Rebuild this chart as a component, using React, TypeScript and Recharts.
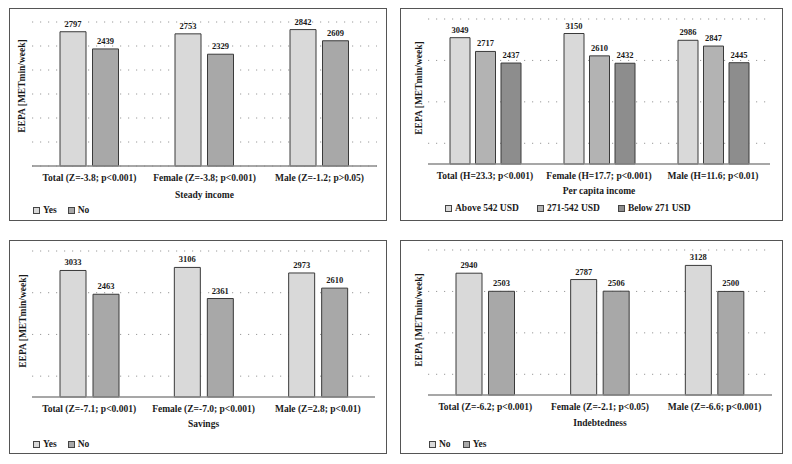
import React from 'react';
import { BarChart, Bar, XAxis, YAxis, CartesianGrid, Legend, LabelList, Label } from 'recharts';

const FONT = '"Liberation Serif", "Times New Roman", serif';
const TEXT = '#1a1a1a';

// Panel 1: Steady income
const steadyCategories = ['Total (Z=-3.8; p<0.001)', 'Female (Z=-3.8; p<0.001)', 'Male (Z=-1.2; p>0.05)'];
const steadyYes = [2797, 2753, 2842];
const steadyNo = [2439, 2329, 2609];

// Panel 2: Per capita income
const incomeCategories = ['Total (H=23.3; p<0.001)', 'Female (H=17.7; p<0.001)', 'Male (H=11.6; p<0.01)'];
const incomeAbove = [3049, 3150, 2986];
const incomeMid = [2717, 2610, 2847];
const incomeBelow = [2437, 2432, 2445];

// Panel 3: Savings
const savingsCategories = ['Total (Z=-7.1; p<0.001)', 'Female (Z=-7.0; p<0.001)', 'Male (Z=2.8; p<0.01)'];
const savingsYes = [3033, 3106, 2973];
const savingsNo = [2463, 2361, 2610];

// Panel 4: Indebtedness
const debtCategories = ['Total (Z=-6.2; p<0.001)', 'Female (Z=-2.1; p<0.05)', 'Male (Z=-6.6; p<0.001)'];
const debtNo = [2940, 2787, 3128];
const debtYes = [2503, 2506, 2500];

const ticks3000 = [0, 500, 1000, 1500, 2000, 2500, 3000];
const ticks3500 = [0, 500, 1000, 1500, 2000, 2500, 3000, 3500];

const LIGHT = '#d9d9d9';
const MID = '#a8a8a8';
const MID2 = '#b3b3b3';
const DARK = '#8d8d8d';

type Series = { key: string; name: string; color: string };

type PanelProps = {
  left: number; top: number; width: number; height: number;
  data: any[]; series: Series[];
  margin: { top: number; right: number; bottom: number; left: number };
  yWidth: number; xHeight: number; title: string; titleOffset: number;
  domainMax: number; ticks: number[]; barSize: number; barGap: number;
  legendLeft: number; legendTop: number; legendGap: number;
  yLabelX: number; yLabelY: number;
};

const Panel = (p: PanelProps) => {
  const renderLegend = () => (
    <div style={{ display: 'flex', alignItems: 'center', fontFamily: FONT, fontSize: 9.5, fontWeight: 'bold', color: TEXT, lineHeight: '12px', whiteSpace: 'nowrap' }}>
      {p.series.map((s, i) => (
        <div key={i} style={{ display: 'flex', alignItems: 'center', marginRight: p.legendGap }}>
          <span style={{ display: 'inline-block', width: 5, height: 5, background: s.color, border: '1px solid #444', marginRight: 3 }} />
          <span>{s.name}</span>
        </div>
      ))}
    </div>
  );
  return (
    <>
      <div style={{ position: 'absolute', left: p.left, top: p.top, width: p.width, height: p.height, boxSizing: 'border-box', border: '1px solid #555', background: '#fff' }} />
      <div style={{ position: 'absolute', left: p.left, top: p.top, width: p.width, height: p.height }}>
        <BarChart width={p.width} height={p.height} data={p.data} margin={p.margin} barSize={p.barSize} barGap={p.barGap}>
          <CartesianGrid vertical={false} horizontalValues={p.ticks} stroke="#9a9a9a" strokeDasharray="1.2 6.8" />
          <XAxis dataKey="cat" tickLine={false} interval={0} height={p.xHeight}
            axisLine={{ stroke: '#8a8a8a', strokeWidth: 1.6 }}
            tick={{ fontFamily: FONT, fontSize: 9.5, fontWeight: 'bold', fill: TEXT }}>
            <Label value={p.title} position="insideBottom" offset={p.titleOffset} fill={TEXT} fontSize={9.5} fontWeight="bold" fontFamily={FONT} />
          </XAxis>
          <YAxis width={p.yWidth} domain={[0, p.domainMax]} ticks={p.ticks} tick={() => null} axisLine={false} tickLine={false}>
            <Label content={() => (
              <text x={p.yLabelX} y={p.yLabelY} transform={`rotate(-90 ${p.yLabelX} ${p.yLabelY})`} textAnchor="middle" dominantBaseline="central"
                fontFamily={FONT} fontSize={9.5} fontWeight="bold" fill={TEXT}>EEPA [METmin/week]</text>
            )} />
          </YAxis>
          <Legend layout="horizontal" verticalAlign="middle" align="center" content={renderLegend}
            wrapperStyle={{ top: p.legendTop, left: p.legendLeft, width: 'auto', height: 'auto' }} />
          {p.series.map((s) => (
            <Bar key={s.key} dataKey={s.key} name={s.name} fill={s.color} stroke="#3a3a3a" strokeWidth={1} isAnimationActive={false}>
              <LabelList dataKey={s.key} position="top" offset={5} fill={TEXT} fontSize={8.5} fontWeight="bold" fontFamily={FONT} />
            </Bar>
          ))}
        </BarChart>
      </div>
    </>
  );
};

const steadyData = steadyCategories.map((c, i) => ({ cat: c, yes: steadyYes[i], no: steadyNo[i] }));
const incomeData = incomeCategories.map((c, i) => ({ cat: c, above: incomeAbove[i], mid: incomeMid[i], below: incomeBelow[i] }));
const savingsData = savingsCategories.map((c, i) => ({ cat: c, yes: savingsYes[i], no: savingsNo[i] }));
const debtData = debtCategories.map((c, i) => ({ cat: c, no: debtNo[i], yes: debtYes[i] }));

export default function App() {
  return (
    <div style={{ position: 'absolute', left: 0, top: 0, width: 792, height: 464, background: '#fff' }}>
      <Panel left={9} top={8} width={378} height={213} data={steadyData}
        series={[{ key: 'yes', name: 'Yes', color: LIGHT }, { key: 'no', name: 'No', color: MID }]}
        margin={{ top: 14, right: 10, bottom: 19, left: 0 }} yWidth={23} xHeight={36}
        title="Steady income" titleOffset={4} domainMax={3000} ticks={ticks3000}
        barSize={26} barGap={6.5} legendLeft={24} legendTop={196} legendGap={11}
        yLabelX={13} yLabelY={78} />
      <Panel left={400} top={8} width={383} height={213} data={incomeData}
        series={[{ key: 'above', name: 'Above 542 USD', color: LIGHT }, { key: 'mid', name: '271-542 USD', color: MID2 }, { key: 'below', name: 'Below 271 USD', color: DARK }]}
        margin={{ top: 11, right: 13, bottom: 23, left: 0 }} yWidth={28} xHeight={34}
        title="Per capita income" titleOffset={4} domainMax={3500} ticks={ticks3500}
        barSize={20} barGap={5.5} legendLeft={45} legendTop={194} legendGap={18}
        yLabelX={19} yLabelY={80} />
      <Panel left={9} top={240} width={378} height={214} data={savingsData}
        series={[{ key: 'yes', name: 'Yes', color: LIGHT }, { key: 'no', name: 'No', color: MID }]}
        margin={{ top: 11, right: 12, bottom: 23, left: 0 }} yWidth={23} xHeight={34}
        title="Savings" titleOffset={4} domainMax={3500} ticks={ticks3500}
        barSize={26} barGap={7} legendLeft={24} legendTop={198} legendGap={11}
        yLabelX={14} yLabelY={81} />
      <Panel left={400} top={240} width={383} height={214} data={debtData}
        series={[{ key: 'no', name: 'No', color: LIGHT }, { key: 'yes', name: 'Yes', color: MID }]}
        margin={{ top: 10, right: 11, bottom: 25, left: 0 }} yWidth={28} xHeight={34}
        title="Indebtedness" titleOffset={3} domainMax={3500} ticks={ticks3500}
        barSize={26} barGap={6.5} legendLeft={29} legendTop={198} legendGap={12}
        yLabelX={19} yLabelY={80} />
    </div>
  );
}
